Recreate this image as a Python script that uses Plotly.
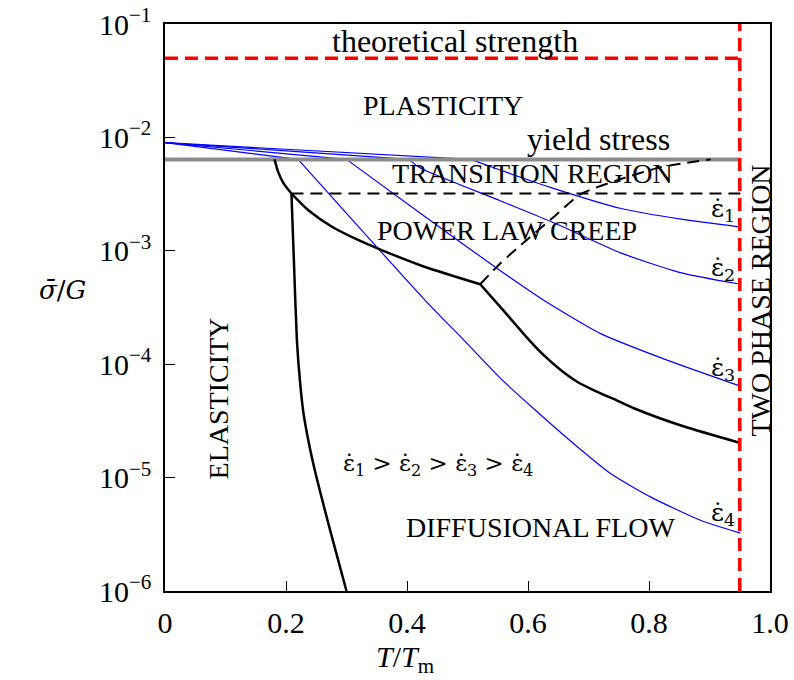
import plotly.graph_objects as go

# strain-rate contours (blue); first two points are the straight approach to the yield line
T_EPS1 = [0, 0.505, 0.555, 0.637, 0.754, 0.85, 0.951]
S_EPS1 = [0.0090, 0.0064, 0.00513, 0.00363, 0.00236, 0.00191, 0.00162]
T_EPS2 = [0, 0.403, 0.422, 0.555, 0.637, 0.754, 0.85, 0.951]
S_EPS2 = [0.0090, 0.0064, 0.00537, 0.00275, 0.00182, 0.000955, 0.000646, 0.000507]
T_EPS3 = [0, 0.30, 0.43, 0.549, 0.626, 0.72, 0.831, 0.951]
S_EPS3 = [0.0090, 0.0064, 0.0020, 6.98e-4, 3.66e-4, 1.86e-4, 1.08e-4, 6.4e-5]
T_EPS4 = [0, 0.22, 0.43, 0.494, 0.555, 0.604, 0.682, 0.737, 0.803, 0.886, 0.951]
S_EPS4 = [0.0090, 0.0064, 3.66e-4, 1.63e-4, 7.46e-5, 4.3e-5, 1.86e-5, 1.08e-5, 6.73e-6, 4.19e-6, 3.24e-6]

# field boundaries (black)
T_ELASTIC_TOP = [0.181, 0.187, 0.196, 0.209]
S_ELASTIC_TOP = [0.0064, 0.00497, 0.00393, 0.0032]
T_ELASTIC = [0.209, 0.213, 0.218, 0.223, 0.229, 0.245, 0.273, 0.300]
S_ELASTIC = [0.0032, 8.3e-4, 1.63e-4, 7.2e-5, 3.66e-5, 1.33e-5, 3.42e-6, 1e-6]
T_CREEP = [0.209, 0.237, 0.276, 0.32, 0.359, 0.430, 0.521]
S_CREEP = [0.0032, 0.00228, 0.00163, 0.00124, 0.00101, 7.2e-4, 5.07e-4]
T_DIFF = [0.521, 0.56, 0.599, 0.626, 0.654, 0.682, 0.709, 0.753, 0.776, 0.858, 0.951]
S_DIFF = [5.07e-4, 2.95e-4, 1.70e-4, 1.20e-4, 8.9e-5, 6.97e-5, 5.89e-5, 4.63e-5, 4.07e-5, 2.82e-5, 2.02e-5]
T_DASH = [0.521, 0.554, 0.588, 0.643, 0.687, 0.748, 0.82, 0.902]
S_DASH = [5.07e-4, 7.73e-4, 1.12e-3, 2.0e-3, 3.16e-3, 4.2e-3, 5.47e-3, 6.4e-3]
T_TRANS = [0.209, 0.951]
S_TRANS = [0.0032, 0.0032]

T_YIELD = [0, 0.951]
S_YIELD = [0.0064, 0.0064]
T_THEO = [0, 0.95]
S_THEO = [0.05, 0.05]
T_TWOPHASE = [0.95, 0.95]
S_TWOPHASE = [1e-6, 1e-1]

X_TICKS = [0, 0.2, 0.4, 0.6, 0.8, 1.0]
X_TICKTEXT = ["0", "0.2", "0.4", "0.6", "0.8", "1.0"]
Y_TICKS = [1e-6, 1e-5, 1e-4, 1e-3, 1e-2, 1e-1]
Y_TICKTEXT = ["10<sup>−6</sup>", "10<sup>−5</sup>", "10<sup>−4</sup>", "10<sup>−3</sup>",
              "10<sup>−2</sup>", "10<sup>−1</sup>"]

SERIF = "Liberation Serif, DejaVu Serif, serif"
MATH = "DejaVu Serif, serif"

fig = go.Figure()


def line(x, y, color, width, dash="solid", shape="linear"):
    fig.add_trace(go.Scatter(x=x, y=y, mode="lines", showlegend=False, hoverinfo="skip",
                             line=dict(color=color, width=width, dash=dash, shape=shape, smoothing=0.6)))


for tx, sy in [(T_EPS1, S_EPS1), (T_EPS2, S_EPS2), (T_EPS3, S_EPS3), (T_EPS4, S_EPS4)]:
    line(tx[:2], sy[:2], "#0000ff", 1.2)
    line(tx[1:], sy[1:], "#0000ff", 1.2, shape="spline")
line(T_YIELD, S_YIELD, "#8c8c8c", 4)
line(T_ELASTIC_TOP, S_ELASTIC_TOP, "black", 2.5, shape="spline")
line(T_ELASTIC, S_ELASTIC, "black", 2.5, shape="spline")
line(T_CREEP, S_CREEP, "black", 2.5, shape="spline")
line(T_DIFF, S_DIFF, "black", 2.5, shape="spline")
line(T_DASH, S_DASH, "black", 2, "12px,7px", shape="spline")
line(T_TRANS, S_TRANS, "black", 2, "12px,7px")
line(T_THEO, S_THEO, "#ff0000", 3.5, "13px,7px")
line(T_TWOPHASE, S_TWOPHASE, "#ff0000", 3.5, "13px,7px")

labels = [
    ("theoretical strength", 0.48, -1.15, 32, 0, SERIF),
    ("PLASTICITY", 0.459, -1.715, 28, 0, SERIF),
    ("yield stress", 0.717, -2.01, 32, 0, SERIF),
    ("TRANSITION REGION", 0.607, -2.32, 28, 0, SERIF),
    ("POWER LAW CREEP", 0.566, -2.82, 28, 0, SERIF),
    ("ELASTICITY", 0.088, -4.30, 28, -90, SERIF),
    ("DIFFUSIONAL FLOW", 0.62, -5.44, 28, 0, SERIF),
    ("TWO PHASE REGION", 0.985, -3.44, 28, -90, SERIF),
    ("ε̇<sub>1</sub> &gt; ε̇<sub>2</sub> &gt; ε̇<sub>3</sub> &gt; ε̇<sub>4</sub>", 0.452, -4.89, 23, 0, MATH),
    ("ε̇<sub>1</sub>", 0.923, -2.64, 25, 0, MATH),
    ("ε̇<sub>2</sub>", 0.923, -3.16, 25, 0, MATH),
    ("ε̇<sub>3</sub>", 0.923, -4.04, 25, 0, MATH),
    ("ε̇<sub>4</sub>", 0.923, -5.32, 25, 0, MATH),
]
for text, x, y, size, ang, fam in labels:
    fig.add_annotation(x=x, y=y, text=text, showarrow=False, textangle=ang,
                       font=dict(family=fam, size=size, color="black"))

fig.add_annotation(xref="paper", yref="paper", x=-0.17, y=0.531, xanchor="center", yanchor="middle",
                   text="<i>σ̄</i>/<i>G</i>", showarrow=False, font=dict(family=MATH, size=26, color="black"))
fig.add_annotation(xref="paper", yref="paper", x=0.397, y=-0.12, xanchor="center", yanchor="middle",
                   text="<i>T</i>/<i>T</i><sub>m</sub>", showarrow=False,
                   font=dict(family=SERIF, size=30, color="black"))

axis_common = dict(showgrid=False, zeroline=False, showline=True, linecolor="black", linewidth=1.5,
                   mirror=True, ticks="inside", ticklen=10, tickwidth=1, tickcolor="black", automargin=False,
                   ticklabeloverflow="allow", tickfont=dict(family=SERIF, size=30, color="black"))
fig.update_xaxes(range=[0, 1], tickvals=X_TICKS, ticktext=X_TICKTEXT, ticklabelstandoff=4, **axis_common)
fig.update_yaxes(type="log", range=[-6, -1], tickvals=Y_TICKS, ticktext=Y_TICKTEXT,
                 ticklabelstandoff=6, **axis_common)

fig.update_layout(width=794, height=680, plot_bgcolor="white", paper_bgcolor="white",
                  margin=dict(l=165, r=24, t=24, b=89), showlegend=False)

# drop the default 8px page margin so the figure sits at the window origin
fig.write_html("out.html", config={"displayModeBar": False},
               post_script="document.body.style.margin = '0px';")
